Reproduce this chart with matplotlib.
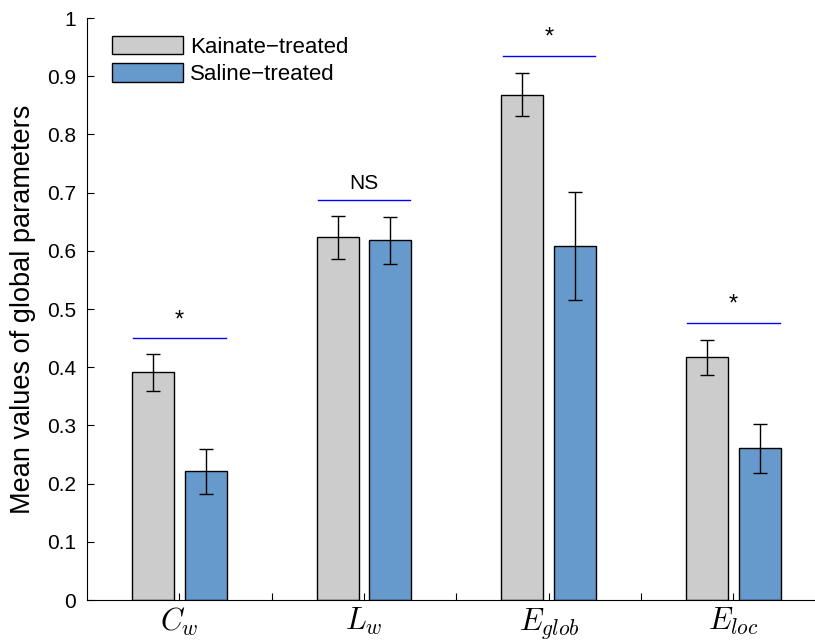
import numpy as np
import matplotlib
matplotlib.use("Agg")
import matplotlib.pyplot as plt

plt.rcParams["font.family"] = ["Liberation Sans", "DejaVu Sans"]
plt.rcParams["mathtext.fontset"] = "cm"

# data
params = [r"$C_w$", r"$L_w$", r"$E_{glob}$", r"$E_{loc}$"]
kainate_mean = [0.391, 0.623, 0.868, 0.417]
kainate_err = [0.031, 0.037, 0.037, 0.030]
saline_mean = [0.221, 0.618, 0.608, 0.261]
saline_err = [0.038, 0.040, 0.093, 0.042]
sig_level = [0.450, 0.687, 0.935, 0.476]
sig_label = ["*", "NS", "*", "*"]

x = np.arange(1, len(params) + 1)
off = 0.143
w = 0.227

fig = plt.figure(figsize=(8.15, 6.44), dpi=100)
ax = fig.add_axes([0.1067, 0.0683, 0.893, 0.9037])

ax.bar(x - off, kainate_mean, w, color="#cccccc", edgecolor="black", lw=1.0,
       label="Kainate\u2212treated", zorder=2)
ax.bar(x + off, saline_mean, w, color="#6699cc", edgecolor="black", lw=1.0,
       label="Saline\u2212treated", zorder=2)
ax.errorbar(x - off, kainate_mean, yerr=kainate_err, fmt="none", ecolor="black",
            elinewidth=1.0, capsize=5, capthick=1.0, zorder=3)
ax.errorbar(x + off, saline_mean, yerr=saline_err, fmt="none", ecolor="black",
            elinewidth=1.0, capsize=5, capthick=1.0, zorder=3)

for xi, lev, lab in zip(x, sig_level, sig_label):
    ax.plot([xi - 0.25, xi + 0.25], [lev, lev], color="#0000ff", lw=1.0, zorder=3)
    if lab == "*":
        ax.text(xi, lev + 0.012, lab, ha="center", va="bottom", fontsize=17)
    else:
        ax.text(xi, lev + 0.012, lab, ha="center", va="bottom", fontsize=15)

ax.set_xlim(0.5, 4.44)
ax.set_ylim(0, 1)
ax.set_xticks(np.arange(1, 4.5, 0.5))
ax.set_xticklabels([params[0], "", params[1], "", params[2], "", params[3]],
                   fontsize=22)
ax.set_yticks(np.arange(0, 1.01, 0.1))
ax.set_yticklabels(["0"] + [f"{v:.1f}" for v in np.arange(0.1, 0.95, 0.1)] + ["1"])
ax.tick_params(axis="y", direction="in", length=5, labelsize=15, pad=8)
ax.tick_params(axis="x", direction="in", length=5, pad=4)
ax.spines["top"].set_visible(False)
ax.spines["right"].set_visible(False)
ax.set_ylabel("Mean values of global parameters", fontsize=19.5, labelpad=8)

ax.legend(loc="upper left", bbox_to_anchor=(0.022, 0.985), frameon=False,
          fontsize=16, handlelength=3.2, handleheight=0.9, handletextpad=0.3,
          labelspacing=0.25, borderaxespad=0)

fig.savefig("out.png", dpi=100)
